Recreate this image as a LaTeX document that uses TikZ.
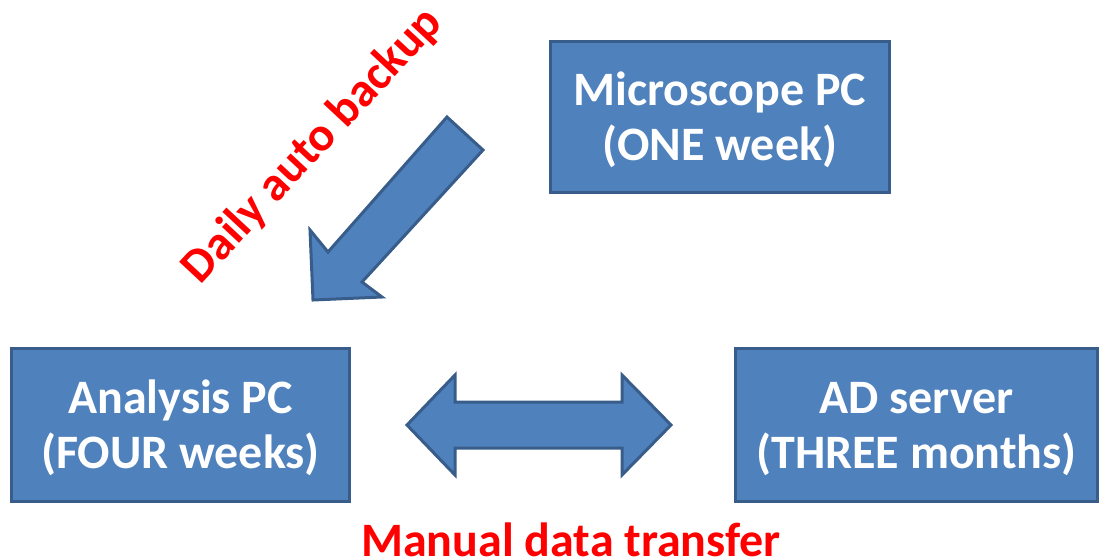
\documentclass[tikz,border=0pt]{standalone}
\usepackage{fontspec}
\newfontfamily\calibri{Carlito}
\definecolor{boxfill}{HTML}{4F81BD}
\definecolor{boxline}{HTML}{385D8A}
\tikzset{
  pcbox/.style={draw=boxline, fill=boxfill, line width=3pt, text=white,
    align=center, inner sep=0pt, text height=100pt, text depth=14pt,
    font=\calibri\bfseries\fontsize{48}{55}\selectfont},
  blockarrow/.style={draw=boxline, fill=boxfill, line width=3pt, line join=miter},
  redlabel/.style={text=red, inner sep=0pt,
    font=\calibri\bfseries\fontsize{48}{54}\selectfont}
}

\begin{document}
\begin{tikzpicture}[x=1pt,y=-1pt]
    \useasboundingbox (0,0) rectangle (1101,557);

    \node[pcbox, minimum width=339pt, minimum height=151pt] (micro) at (720,117)
      {Microscope PC\\(ONE week)};
    \node[pcbox, minimum width=338pt, minimum height=153pt] (analysis) at (180.5,425)
      {Analysis PC\\(FOUR weeks)};
    \node[pcbox, minimum width=362pt, minimum height=153pt] (server) at (916.5,425)
      {AD server\\(THREE months)};

    % backup arrow from microscope PC down to analysis PC
    \draw[blockarrow] (447,117) -- (483,150) -- (362,282) -- (382,297)
      -- (313,300) -- (310,230) -- (328,252) -- cycle;
    \node[redlabel, rotate=47] (backup) at (313,146) {Daily auto backup};

    % two-way transfer arrow
    \draw[blockarrow] (407,425) -- (455,375) -- (455,402) -- (622,402) -- (622,375)
      -- (671,425) -- (622,475) -- (622,448) -- (455,448) -- (455,475) -- cycle;
    \node[redlabel, anchor=base] (manual) at (571,556) {Manual data transfer};
\end{tikzpicture}
\end{document}
